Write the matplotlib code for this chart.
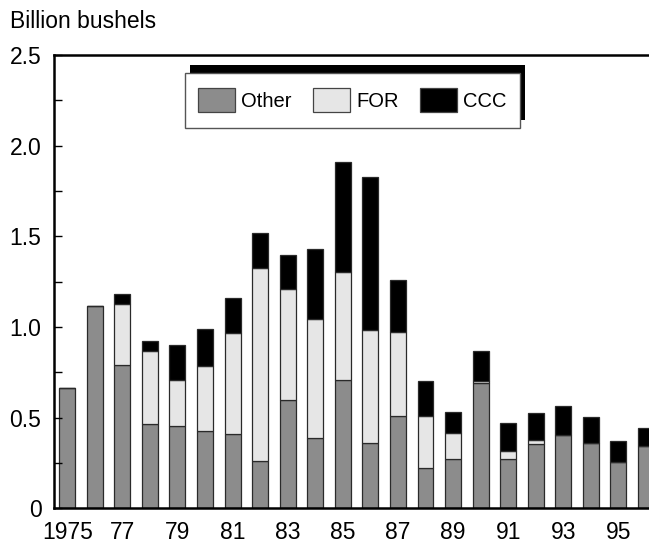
import matplotlib.pyplot as plt
import numpy as np
from matplotlib.patches import Rectangle
from matplotlib.ticker import FixedLocator

plt.rcParams['font.family'] = ['Liberation Sans', 'DejaVu Sans']

years = list(range(1975, 1997))
other = [0.663, 1.115, 0.790, 0.468, 0.455, 0.427, 0.409, 0.260, 0.600, 0.391, 0.709,
         0.360, 0.512, 0.223, 0.273, 0.692, 0.271, 0.354, 0.407, 0.360, 0.255, 0.345]
forr = [0.0, 0.0, 0.338, 0.402, 0.256, 0.359, 0.557, 1.063, 0.609, 0.654, 0.592,
        0.626, 0.463, 0.285, 0.142, 0.011, 0.044, 0.024, 0.0, 0.0, 0.0, 0.0]
ccc = [0.0, 0.0, 0.053, 0.054, 0.191, 0.204, 0.193, 0.193, 0.191, 0.383, 0.609,
       0.841, 0.287, 0.194, 0.119, 0.164, 0.158, 0.150, 0.158, 0.146, 0.119, 0.097]
tick_years = list(range(1975, 1997, 2))
tick_labels = ['1975', '77', '79', '81', '83', '85', '87', '89', '91', '93', '95']

fig = plt.figure(figsize=(6.49, 5.46), dpi=100)
ax = fig.add_axes([0.0832, 0.0687, 0.9168, 0.8306])

fs = 16.5
w = 0.58
ec = '#2a2a2a'
x = np.array(years)
b1 = np.array(other)
b2 = b1 + np.array(forr)
ax.bar(x, other, w, color='#8c8c8c', edgecolor=ec, lw=0.9, label='Other')
ax.bar(x, forr, w, bottom=b1, color='#e6e6e6', edgecolor=ec, lw=0.9, label='FOR')
ax.bar(x, ccc, w, bottom=b2, color='black', edgecolor=ec, lw=0.9, label='CCC')

ax.set_xlim(1974.52, 1996.11)
ax.set_ylim(0, 2.5)
ax.set_xticks(tick_years)
ax.set_xticklabels(tick_labels, fontsize=fs)
ax.set_yticks([0, 0.5, 1.0, 1.5, 2.0, 2.5])
ax.set_yticklabels(['0', '0.5', '1.0', '1.5', '2.0', '2.5'], fontsize=fs)
ax.yaxis.set_minor_locator(FixedLocator([0.25, 0.75, 1.25, 1.75, 2.25]))
ax.tick_params(axis='x', length=0, pad=9)
ax.tick_params(axis='y', which='both', direction='in', length=6, width=1, pad=9)

for s in ['left', 'bottom', 'top']:
    ax.spines[s].set_linewidth(1.8)
ax.spines['right'].set_visible(False)

fig.text(0.015, 0.96, 'Billion bushels', fontsize=fs, va='center', ha='left')

# legend box with a black shadow up and to the right
ax.add_patch(Rectangle((0.2928, 0.7802), 0.5162, 0.1008, transform=fig.transFigure,
                       facecolor='black', edgecolor='none', zorder=4.8, clip_on=False))
ax.add_patch(Rectangle((0.2851, 0.7656), 0.5162, 0.1012, transform=fig.transFigure,
                       facecolor='white', edgecolor='#555555', lw=1.0, zorder=4.9,
                       clip_on=False))
leg = ax.legend(loc='center', bbox_to_anchor=(0.543, 0.8163),
                bbox_transform=fig.transFigure, ncol=3,
                fontsize=14.5, frameon=False, borderpad=0.2,
                handlelength=1.85, handleheight=1.45, handletextpad=0.3,
                columnspacing=1.05, borderaxespad=0)
for p in leg.get_patches():
    p.set_edgecolor('#444444')

fig.savefig('out.png', dpi=100)
